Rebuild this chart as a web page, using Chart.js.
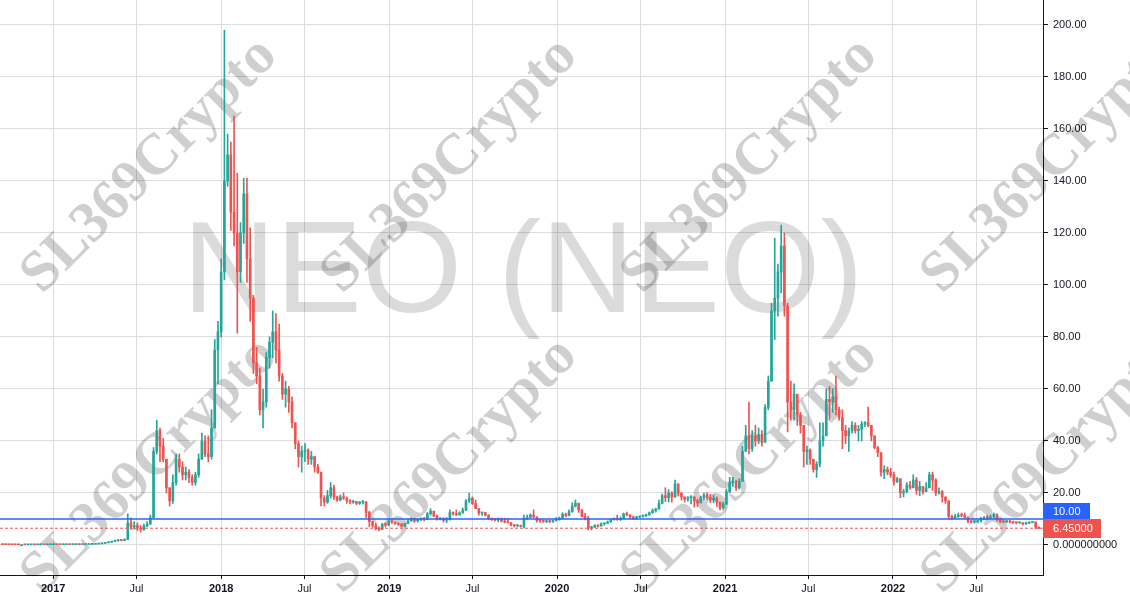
<!DOCTYPE html>
<html>
<head>
<meta charset="utf-8">
<title>NEO (NEO)</title>
<script src="https://cdn.jsdelivr.net/npm/chart.js@4.4.0/dist/chart.umd.min.js"></script>
<style>
  html, body { margin: 0; padding: 0; background: #ffffff; }
  #wrap { width: 1130px; height: 600px; }
</style>
</head>
<body>
<div id="wrap"><canvas id="neoChart" width="1130" height="600"></canvas></div>
<script>
// Weekly NEO candles, first week starts on this date
const firstWeek = '2016-09-12';
const firstOpen = 0.18;

// weekly closes (open of a week = close of the week before)
const closes = [
  0.16, 0.14, 0.12, 0.10, 0.09, 0.08, 0.08, 0.07, 0.08, 0.09,
  0.08, 0.10, 0.11, 0.10, 0.12, 0.13, 0.15, 0.14, 0.13, 0.14,
  0.15, 0.14, 0.16, 0.18, 0.17, 0.19, 0.22, 0.25, 0.30, 0.36,
  0.45, 0.62, 0.85, 1.05, 1.30, 1.60, 1.90, 1.75, 2.10, 8.50,
  7.00, 7.50, 6.50, 6.00, 7.30, 8.00, 10.5, 36.0, 44.0, 38.0,
  33.0, 22.0, 17.0, 24.0, 33.0, 30.0, 27.0, 28.0, 26.0, 24.0,
  27.0, 33.0, 40.0, 35.0, 34.0, 45.0, 75.0, 82.0, 105, 140,
  150, 128, 120, 105, 120, 135, 110, 95, 70, 65,
  52, 55, 72, 78, 82, 75, 65, 58, 60, 55,
  47, 39, 34, 36, 36.5, 33, 34, 30, 28, 18,
  16.5, 19, 22, 18.5, 17.3, 18.5, 18, 17, 16.5, 16.8,
  16, 16.3, 16.5, 12.5, 9, 7.5, 6.4, 6.0, 8.0, 7.7,
  9.0, 8.8, 8.3, 8.0, 7.3, 8.2, 9.2, 10.2, 9.2, 9.8,
  10.2, 9.9, 12.0, 13.0, 11.2, 10.0, 10.2, 9.5, 9.8, 12.5,
  12.0, 11.6, 12.3, 13.4, 17.0, 18.0, 16.0, 14.0, 12.3, 12.5,
  11.5, 10.3, 9.8, 9.6, 9.9, 9.2, 8.8, 8.6, 7.7, 7.4,
  7.5, 7.1, 10.2, 10.6, 11.5, 10.8, 9.4, 9.3, 9.0, 9.2,
  9.0, 9.4, 9.8, 10.3, 11.8, 11.3, 12.8, 15.0, 16.0, 13.5,
  11.0, 10.4, 6.6, 6.8, 7.5, 7.3, 8.1, 8.4, 8.9, 9.7,
  10.0, 9.8, 10.2, 12.0, 11.6, 10.8, 10.4, 10.8, 11.0, 11.3,
  11.6, 12.4, 13.2, 13.8, 16.0, 19.0, 18.2, 20.0, 18.5, 23.5,
  20.0, 18.5, 17.6, 18.2, 18.5, 17.0, 16.2, 18.2, 19.2, 18.3,
  17.2, 18.0, 16.5, 14.3, 15.8, 20.5, 24.0, 24.5, 22.0, 24.5,
  36.0, 42.0, 37.0, 42.0, 40.0, 42.5, 39.5, 53.0, 63.0, 90.0,
  95, 105, 115, 92, 55, 52, 58, 50, 46, 36,
  36.5, 33, 29, 31, 40, 42, 56, 55, 57, 52,
  49, 44, 42, 44, 46, 44, 44.5, 46.5, 47, 46,
  42, 37.5, 35.5, 28, 29, 28, 27, 24.5, 25.5, 20,
  20.5, 23, 22, 25, 21, 22.5, 20.5, 22, 27, 25,
  20, 20.5, 18.5, 17, 11, 10.2, 11, 11.5, 11.4, 10.6,
  9.2, 8.8, 9.0, 9.3, 10.0, 10.5, 10.4, 10.8, 11.8, 9.8,
  9.0, 8.9, 9.2, 8.8, 8.6, 8.5, 8.6, 8.1, 8.3, 8.7,
  8.8, 6.8, 6.45
];

const highs = [
  0.20, 0.17, 0.15, 0.13, 0.11, 0.10, 0.09, 0.09, 0.09, 0.10,
  0.10, 0.11, 0.12, 0.12, 0.13, 0.14, 0.17, 0.16, 0.15, 0.15,
  0.16, 0.16, 0.17, 0.20, 0.19, 0.21, 0.24, 0.28, 0.33, 0.40,
  0.50, 0.70, 0.95, 1.20, 1.50, 1.90, 2.20, 2.00, 2.40, 12.0,
  10.4, 9.0, 8.5, 7.5, 8.0, 9.0, 11.5, 37.5, 48.0, 45.0,
  41.0, 33.0, 22.0, 27.0, 35.0, 35.0, 32.0, 30.0, 29.0, 27.0,
  28.0, 35.0, 43.0, 42.0, 42.0, 52.0, 79.0, 86.0, 110, 198,
  158, 155, 165, 143, 124, 141, 141, 122, 96, 76,
  68, 60, 74, 80, 90, 89, 85, 66, 63, 61,
  57, 46, 40, 38, 39, 37, 36, 34, 31, 28,
  19, 21, 24, 23, 18.8, 19.3, 20, 18.5, 17.5, 17.2,
  16.8, 16.8, 17.2, 16.8, 13, 9.2, 8.5, 7.0, 8.3, 8.5,
  9.6, 9.8, 8.9, 8.5, 8.3, 8.4, 10.0, 10.6, 10.4, 10.1,
  10.5, 10.6, 12.5, 14.0, 13.0, 11.5, 10.5, 10.5, 10.6, 13.5,
  12.8, 13.5, 12.8, 14.2, 17.5, 20.0, 18.5, 17.3, 13.5, 12.7,
  12.3, 11.6, 10.4, 10.3, 10.4, 10.4, 10.3, 10.2, 8.5, 7.8,
  7.8, 7.7, 11.5, 11.5, 12.0, 13.5, 10.5, 10.0, 9.6, 9.6,
  9.5, 9.7, 10.5, 10.8, 12.4, 12.3, 13.5, 16.2, 17.3, 16.2,
  13.6, 12.2, 11.0, 7.2, 7.8, 7.8, 8.5, 8.5, 9.2, 10.0,
  10.4, 11.5, 10.8, 12.3, 12.7, 11.6, 11.0, 11.0, 11.1, 11.6,
  11.9, 12.7, 13.9, 14.2, 17.3, 19.6, 22.0, 21.3, 20.5, 25.0,
  23.5, 20.0, 18.5, 18.6, 19.0, 18.5, 17.6, 18.8, 20.0, 20.2,
  19.5, 19.2, 18.5, 16.5, 16.5, 21.5, 26.0, 26.0, 25.0, 25.5,
  38.0, 46.0, 55.0, 44.0, 46.0, 45.0, 44.0, 54.0, 65.0, 93.0,
  118, 108, 123, 120, 93, 63, 62, 56, 51, 45,
  38, 37, 31.5, 32, 47, 47, 60, 61, 60, 65,
  53, 52, 46, 45, 47.5, 47, 46, 47.5, 47.5, 53,
  46, 42, 38, 35, 30.5, 30, 29.5, 28, 26, 25.5,
  21.5, 24, 24.5, 27, 26, 24.5, 22.5, 24, 28, 28,
  25.5, 22, 21, 18.5, 17, 11.5, 11.8, 12.3, 12.3, 12.3,
  10.8, 9.6, 9.5, 9.6, 10.6, 11.0, 11.4, 11.5, 12.3, 12.0,
  9.9, 9.4, 9.5, 9.6, 9.2, 9.0, 8.9, 8.6, 8.8, 9.0,
  9.1, 8.9, 7.0
];

const lows = [
  0.14, 0.12, 0.11, 0.09, 0.08, 0.07, 0.07, 0.06, 0.07, 0.07,
  0.07, 0.08, 0.09, 0.09, 0.10, 0.11, 0.12, 0.13, 0.12, 0.12,
  0.13, 0.13, 0.13, 0.15, 0.16, 0.16, 0.18, 0.21, 0.24, 0.29,
  0.34, 0.44, 0.60, 0.80, 1.00, 1.25, 1.50, 1.55, 1.70, 2.00,
  6.0, 6.0, 5.5, 5.0, 5.6, 7.0, 8.5, 10.3, 35.0, 32.0,
  32.0, 20.0, 15.0, 16.0, 23.0, 28.0, 25.0, 25.0, 24.0, 23.0,
  23.0, 26.0, 33.0, 34.0, 32.0, 33.0, 45.0, 62.0, 80, 102,
  138, 121, 115, 81.5, 101, 116, 101, 86, 66, 62,
  50, 45, 53, 68, 72, 70, 63, 56, 53, 51,
  45, 37, 30, 28, 32, 31, 31, 28, 27.5, 15,
  15, 16, 18, 17.5, 16.8, 17, 17.5, 16, 15.8, 16,
  15.5, 15.6, 15.8, 10.5, 7, 6.8, 5.8, 5.4, 5.9, 7.0,
  7.4, 8.3, 7.9, 7.5, 6.9, 7.0, 8.2, 9.3, 8.7, 8.8,
  9.4, 9.3, 9.8, 11.5, 10.8, 9.5, 9.6, 8.8, 8.6, 9.5,
  11.5, 11.3, 11.5, 12.2, 13.2, 16.3, 15.6, 14.0, 11.5, 11.4,
  11.2, 9.8, 9.4, 9.2, 8.9, 8.8, 8.5, 8.4, 7.3, 6.9,
  7.0, 6.9, 6.6, 9.8, 10.4, 10.5, 8.8, 8.7, 8.7, 8.6,
  8.5, 8.7, 9.2, 9.5, 10.2, 10.8, 11.2, 12.6, 14.6, 12.5,
  10.8, 9.6, 5.8, 5.8, 6.8, 6.9, 7.2, 7.6, 8.3, 8.7,
  9.5, 9.5, 9.4, 10.2, 11.2, 10.2, 9.7, 9.9, 10.5, 10.7,
  10.9, 11.4, 12.2, 12.6, 13.9, 15.8, 16.7, 16.5, 16.5, 18.3,
  18.8, 17.3, 16.5, 16.9, 15.8, 14.6, 14.8, 16.2, 17.2, 17.5,
  16.3, 16.2, 14.8, 13.5, 13.8, 15.5, 20.0, 22.5, 21.0, 21.5,
  24.8, 36.0, 35.0, 36.0, 38.0, 39.0, 38.0, 40.0, 52.0, 63.0,
  79, 88, 97, 88, 43.5, 48, 48, 46, 43, 30,
  31, 31, 28, 26, 30, 38, 42, 48, 51, 50,
  48, 37, 39, 36, 43, 43, 40, 40, 45.5, 45.5,
  40, 37, 34, 26.5, 25.5, 27, 26, 23, 24, 18.2,
  18.5, 20, 21.5, 23, 19.5, 19, 19.5, 20.5, 22, 21,
  19, 19.5, 16.5, 16, 10, 9.6, 10.3, 10.6, 10.8, 10.2,
  8.6, 8.4, 8.4, 8.5, 8.8, 9.6, 9.7, 10.2, 10.4, 9.2,
  8.5, 8.5, 8.6, 8.5, 8.3, 8.1, 8.3, 7.7, 7.9, 8.2,
  8.5, 6.3, 6.3
];

// price lines marked on the right axis
const lastPrice = 6.45;
const levelPrice = 10;

// axis ticks and visible range
const yTicks = [0, 20, 40, 60, 80, 100, 120, 140, 160, 180, 200];
const xTickYears = [2017, 2018, 2019, 2020, 2021, 2022];
const xRange = ['2016-09-07', '2022-11-23'];
const yRange = [-11.54, 209.6];

const upColor = '#26a69a';
const downColor = '#ef5350';
const textColor = '#131722';
const gridColor = '#dadde1';
const fontFamily = '"Liberation Sans", Arial, sans-serif';

// date -> decimal year, so the x axis can be a plain linear scale
function toYear(ms) {
    const d = new Date(ms);
    const y = d.getUTCFullYear();
    const start = Date.UTC(y, 0, 1);
    const end = Date.UTC(y + 1, 0, 1);
    return y + (ms - start) / (end - start);
}

const xTicks = [];
xTickYears.forEach(y => {
    xTicks.push(y);
    xTicks.push(toYear(Date.UTC(y, 6, 1)));
});

const wicks = [];
const bodies = [];
const colors = [];
let prevClose = firstOpen;
closes.forEach((c, i) => {
    const x = toYear(Date.parse(firstWeek) + i * 7 * 864e5);
    const o = prevClose;
    wicks.push({ x: x, y: [Math.min(lows[i], o, c), Math.max(highs[i], o, c)] });
    bodies.push({ x: x, y: [o, c] });
    colors.push(c >= o ? upColor : downColor);
    prevClose = c;
});

const isYear = v => Math.abs(v - Math.round(v)) < 1e-6;

// background watermarks (drawn over grid, under candles)
const watermarks = {
    id: 'watermarks',
    beforeDatasetsDraw(chart) {
        const ctx = chart.ctx;
        ctx.save();
        ctx.fillStyle = 'rgba(0, 0, 0, 0.14)';
        ctx.font = '129px ' + fontFamily;
        ctx.textAlign = 'center';
        ctx.textBaseline = 'alphabetic';
        ctx.fillText('NEO (NEO)', 523, 312);

        ctx.fillStyle = 'rgba(0, 0, 0, 0.19)';
        ctx.font = 'bold 58px "Liberation Serif", "DejaVu Serif", serif';
        ctx.textBaseline = 'middle';
        [166, 466].forEach(cy => {
            [150, 450, 750, 1050].forEach(cx => {
                ctx.save();
                ctx.translate(cx, cy);
                ctx.rotate(-Math.PI / 4);
                ctx.fillText('SL369Crypto', 0, 0);
                ctx.restore();
            });
        });
        ctx.restore();
    }
};

// horizontal price lines with their axis labels
const priceLines = {
    id: 'priceLines',
    afterDatasetsDraw(chart) {
        const ctx = chart.ctx;
        const area = chart.chartArea;
        const yScale = chart.scales.y;
        const yLevel = yScale.getPixelForValue(levelPrice);
        const yLast = yScale.getPixelForValue(lastPrice);

        ctx.save();
        ctx.strokeStyle = '#2962ff';
        ctx.lineWidth = 1.3;
        ctx.beginPath();
        ctx.moveTo(area.left, yLevel);
        ctx.lineTo(area.right, yLevel);
        ctx.stroke();

        ctx.strokeStyle = downColor;
        ctx.lineWidth = 1;
        ctx.setLineDash([3, 2]);
        ctx.beginPath();
        ctx.moveTo(area.left, yLast);
        ctx.lineTo(area.right, yLast);
        ctx.stroke();
        ctx.setLineDash([]);

        const redTop = Math.round(yLast - 9.5);
        const blueTop = redTop - 16;
        ctx.fillStyle = '#2962ff';
        ctx.fillRect(area.right, blueTop, 47, 19);
        ctx.fillStyle = downColor;
        ctx.fillRect(area.right, redTop, 58, 19);

        ctx.fillStyle = '#ffffff';
        ctx.font = '11px ' + fontFamily;
        ctx.textAlign = 'left';
        ctx.textBaseline = 'middle';
        ctx.fillText(levelPrice.toFixed(2), area.right + 10, blueTop + 8.5);
        ctx.fillText(lastPrice.toFixed(5), area.right + 10, redTop + 9.5);
        ctx.restore();
    }
};

Chart.defaults.font.family = fontFamily;
Chart.defaults.font.size = 11;
Chart.defaults.color = textColor;

const ctx = document.getElementById('neoChart').getContext('2d');
const neoChart = new Chart(ctx, {
    type: 'bar',
    data: {
        datasets: [
            {
                label: 'wick',
                data: wicks,
                backgroundColor: colors,
                barThickness: 1,
                grouped: false,
                order: 2
            },
            {
                label: 'body',
                data: bodies,
                backgroundColor: colors,
                barThickness: 2,
                minBarLength: 1,
                grouped: false,
                order: 1
            }
        ]
    },
    options: {
        responsive: false,
        animation: false,
        layout: { padding: 0 },
        plugins: {
            legend: { display: false },
            tooltip: { enabled: false }
        },
        scales: {
            x: {
                type: 'linear',
                min: toYear(Date.parse(xRange[0])),
                max: toYear(Date.parse(xRange[1])),
                offset: false,
                grid: { offset: false, color: gridColor, tickColor: textColor, tickLength: 4 },
                border: { display: true, color: textColor },
                ticks: {
                    autoSkip: false,
                    maxRotation: 0,
                    padding: 3,
                    color: textColor,
                    font: (c) => ({
                        family: fontFamily,
                        size: 11,
                        weight: (c.tick && isYear(c.tick.value)) ? 'bold' : 'normal'
                    }),
                    callback: (v) => isYear(v) ? String(Math.round(v)) : 'Jul'
                },
                afterBuildTicks: (s) => { s.ticks = xTicks.map(v => ({ value: v })); },
                afterFit: (s) => { s.height = 25; s.paddingLeft = 0; s.paddingRight = 0; }
            },
            y: {
                type: 'linear',
                position: 'right',
                min: yRange[0],
                max: yRange[1],
                grid: { color: gridColor, tickColor: textColor, tickLength: 5 },
                border: { display: true, color: textColor },
                ticks: {
                    padding: 5,
                    color: textColor,
                    font: { size: 11 },
                    callback: (v) => v === 0 ? '0.000000000' : v.toFixed(2)
                },
                afterBuildTicks: (s) => { s.ticks = yTicks.map(v => ({ value: v })); },
                afterFit: (s) => { s.width = 87; s.paddingTop = 0; s.paddingBottom = 0; }
            }
        }
    },
    plugins: [watermarks, priceLines]
});
</script>
</body>
</html>
